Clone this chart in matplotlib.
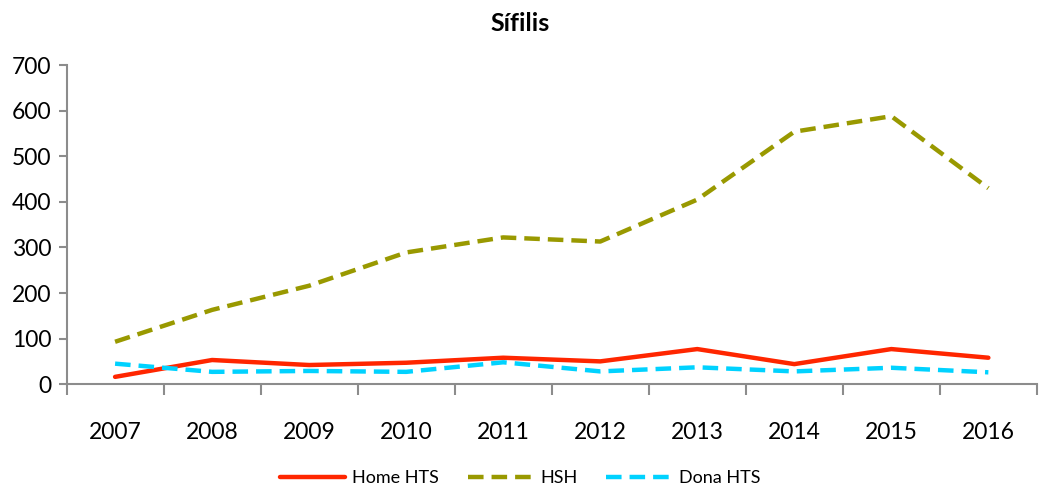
import numpy as np
import matplotlib.pyplot as plt
from matplotlib.ticker import FixedLocator

years = ['2007', '2008', '2009', '2010', '2011', '2012', '2013', '2014', '2015', '2016']
home_hts = [16, 53, 42, 47, 58, 50, 77, 44, 77, 58]
hsh = [93, 163, 216, 289, 322, 313, 405, 554, 588, 430]
dona_hts = [45, 27, 29, 27, 48, 28, 37, 28, 36, 26]
y_ticks = [0, 100, 200, 300, 400, 500, 600, 700]

plt.rcParams['font.family'] = ['Lato', 'DejaVu Sans']

fig = plt.figure(figsize=(10.4, 4.9), dpi=100)
ax = fig.add_axes([0.064, 0.216, 0.933, 0.651])

x = np.arange(len(years))
ax.plot(x, home_hts, color='#ff2600', lw=3.2, solid_capstyle='round', label='Home HTS')
ax.plot(x, hsh, color='#999900', lw=3.2, dashes=(3.5, 1.8), label='HSH')
ax.plot(x, dona_hts, color='#00d2ff', lw=3.2, dashes=(3.5, 1.8), label='Dona HTS')

ax.set_xlim(-0.5, len(years) - 0.5)
ax.set_ylim(0, 700)
ax.set_yticks(y_ticks)
ax.set_xticks(x)
ax.set_xticklabels(years)
ax.xaxis.set_minor_locator(FixedLocator(np.arange(-0.5, len(years), 1)))
ax.tick_params(axis='x', which='major', length=0, pad=27, labelsize=16.5)
ax.tick_params(axis='x', which='minor', length=8, width=1.5, color='#8c8c8c')
ax.tick_params(axis='y', length=6, width=1.5, color='#8c8c8c', labelsize=16.5, pad=5)

for side in ['top', 'right']:
    ax.spines[side].set_visible(False)
for side in ['left', 'bottom']:
    ax.spines[side].set_color('#8c8c8c')
    ax.spines[side].set_linewidth(1.5)

fig.suptitle('Sífilis', fontsize=18, fontweight='bold', y=0.975)
fig.legend(loc='center', bbox_to_anchor=(0.5, 0.024), ncol=3, frameon=False,
           fontsize=13, handlelength=3.6, columnspacing=1.6, handletextpad=0.4)

fig.savefig('out.png', dpi=100)
